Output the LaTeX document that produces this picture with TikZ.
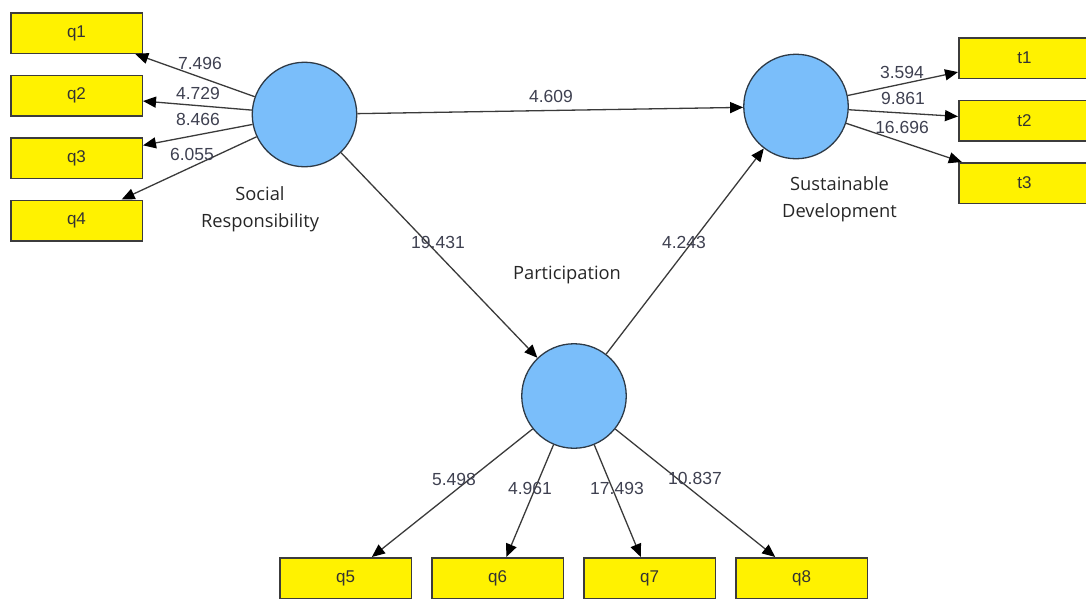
\documentclass[tikz,border=0pt]{standalone}
\usepackage{fontspec}
\setmainfont{Liberation Sans}
\newfontfamily\namefont{Open Sans}
\usetikzlibrary{positioning,arrows.meta}

\definecolor{lvblue}{HTML}{7ABEFA}
\definecolor{lvedge}{HTML}{2E3A46}
\definecolor{boxedge}{HTML}{3C3C3C}
\definecolor{linkgray}{HTML}{3A3A3A}
\definecolor{coefgray}{HTML}{3E4050}

\tikzset{
  latent/.style={circle, draw=lvedge, fill=lvblue, line width=1.3pt, minimum size=104.5pt, inner sep=0pt},
  manifest/.style={rectangle, draw=boxedge, fill=yellow, line width=1.5pt, minimum width=131.5pt, minimum height=40.5pt, font=\fontsize{17}{20}\selectfont, text=black!80},
  link/.style={draw=linkgray, line width=1.3pt, -{Triangle[length=13pt,width=11pt,color=black]}},
  coef/.style={font=\fontsize{17.5}{20}\selectfont, text=coefgray, inner sep=0pt},
  lvname/.style={font=\namefont\fontsize{18.3}{27}\selectfont, text=black!85, align=center, inner sep=0pt},
}

\begin{document}
\begin{tikzpicture}[x=1pt, y=-1pt, node distance=20.5pt and 19pt]
\useasboundingbox (0,0) rectangle (1086,600);

% latent variables
\node[latent] (SR) at (304.5,114.5) {};
\node[latent] (SD) at (796,106.5) {};
\node[latent] (P) at (574,396) {};

\node[lvname] (SRname) at (260,209.5) {Social\\Responsibility};
\node[lvname] (SDname) at (839.5,199) {Sustainable\\Development};
\node[lvname] (Pname) at (567,275) {Participation};

% indicators
\node[manifest] (q1) at (76.5,33) {q1};
\node[manifest, below=of q1] (q2) {q2};
\node[manifest, below=of q2] (q3) {q3};
\node[manifest, below=of q3] (q4) {q4};

\node[manifest] (t1) at (1024.5,58) {t1};
\node[manifest, below=of t1] (t2) {t2};
\node[manifest, below=of t2] (t3) {t3};

\node[manifest] (q5) at (345.5,578) {q5};
\node[manifest, right=of q5] (q6) {q6};
\node[manifest, right=of q6] (q7) {q7};
\node[manifest, right=of q7] (q8) {q8};

% paths
\foreach \ind in {q1,q2,q3,q4} \draw[link] (SR) -- (\ind);
\foreach \ind in {t1,t2,t3} \draw[link] (SD) -- (\ind);
\foreach \ind in {q5,q6,q7,q8} \draw[link] (P) -- (\ind);
\draw[link] (SR) -- (SD);
\draw[link] (SR) -- (P);
\draw[link] (P) -- (SD);

% t values
\node[coef] (c1) at (200,63) {7.496};
\node[coef] (c2) at (198,93) {4.729};
\node[coef] (c3) at (198,119) {8.466};
\node[coef] (c4) at (192,154) {6.055};
\node[coef] (c5) at (551,96) {4.609};
\node[coef] (c6) at (902,72) {3.594};
\node[coef] (c7) at (903,98) {9.861};
\node[coef] (c8) at (902,127) {16.696};
\node[coef] (c9) at (438,242) {19.431};
\node[coef] (c10) at (684,242) {4.243};
\node[coef] (c11) at (454,479) {5.498};
\node[coef] (c12) at (530,488) {4.961};
\node[coef] (c13) at (617,488) {17.493};
\node[coef] (c14) at (695,478) {10.837};
\end{tikzpicture}
\end{document}
